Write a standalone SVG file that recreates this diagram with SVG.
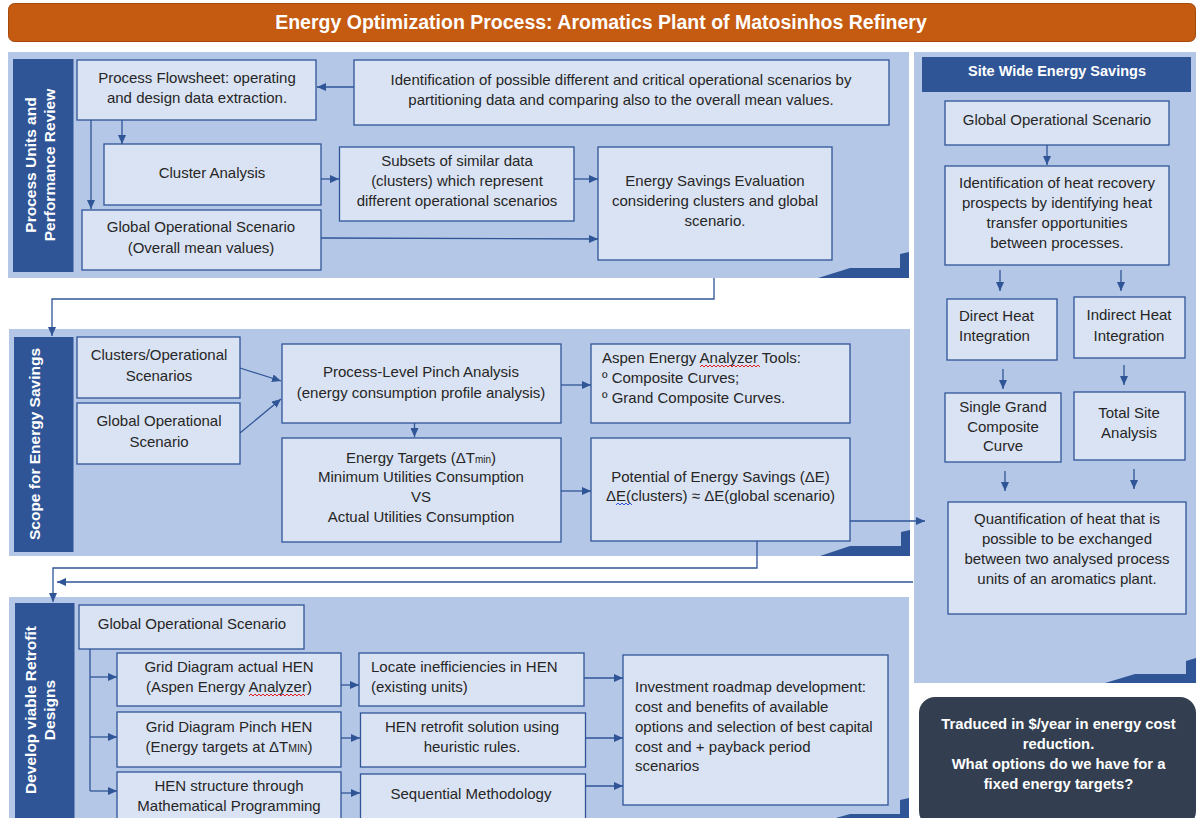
<svg xmlns="http://www.w3.org/2000/svg" width="1196" height="818" viewBox="0 0 1196 818">
<defs>
<style>
.panel{fill:#B4C7E7}
.bar{fill:#2F5597}
.box{fill:#DAE3F3;stroke:#2F5597;stroke-width:1.3}
.t{font-family:"Liberation Sans",Arial,sans-serif;font-size:15px;fill:#262626}
.c{text-anchor:middle}
.bt{font-family:"Liberation Sans",Arial,sans-serif;font-weight:bold;fill:#ffffff;text-anchor:middle}
.ln{fill:none;stroke:#2F5597;stroke-width:1.3}
.deco{fill:#2F5597}
.sq{fill:none;stroke-width:1}
</style>
<marker id="ah" viewBox="0 0 9 8" refX="9" refY="4" markerWidth="9" markerHeight="8" markerUnits="userSpaceOnUse" orient="auto">
<path d="M0,0 L9,4 L0,8 z" fill="#2F5597"/>
</marker>
</defs>
<rect width="1196" height="818" fill="#ffffff"/>

<g id="title">
<rect x="8.5" y="3.5" width="1187" height="38" rx="6" fill="#C55A11" stroke="#A54A0D" stroke-width="1"/>
<text class="bt" x="601" y="29" style="font-size:19.5px">Energy Optimization Process: Aromatics Plant of Matosinhos Refinery</text>
</g>

<g id="panels">
<rect class="panel" x="8" y="52" width="901" height="226"/>
<path class="deco" d="M818,278 L850,268 H900 V254 L909,252 V278 Z"/>
<rect class="panel" x="9" y="329" width="901" height="227"/>
<path class="deco" d="M820,556 L850,546 H901 V532 L910,530 V556 Z"/>
<rect class="panel" x="9" y="597" width="900" height="226"/>
<path class="deco" d="M818,823 L850,814 H900 V800 L909,798 V823 Z"/>
<rect class="panel" x="914" y="52" width="282" height="631"/>
<path class="deco" d="M1105,683 L1135,674 H1186 V661 L1196,658 V683 Z"/>
</g>

<g id="bar1">
<rect class="bar" x="13" y="59" width="60.5" height="213"/>
<text class="bt" style="font-size:15.5px" transform="translate(36,165) rotate(-90)">Process Units and</text>
<text class="bt" style="font-size:15.5px" transform="translate(55,165) rotate(-90)">Performance Review</text>
</g>
<g id="bar2">
<rect class="bar" x="14" y="337" width="59.5" height="215"/>
<text class="bt" style="font-size:15.5px" transform="translate(40,444) rotate(-90)">Scope for Energy Savings</text>
</g>
<g id="bar3">
<rect class="bar" x="15" y="603" width="59.5" height="227"/>
<text class="bt" style="font-size:15.5px" transform="translate(36,710) rotate(-90)">Develop viable Retrofit</text>
<text class="bt" style="font-size:15.5px" transform="translate(55,710) rotate(-90)">Designs</text>
</g>

<g id="connectors">
<line class="ln" x1="354" y1="87" x2="317" y2="87" marker-end="url(#ah)"/>
<line class="ln" x1="122" y1="120" x2="122" y2="144" marker-end="url(#ah)"/>
<line class="ln" x1="91" y1="120" x2="91" y2="209" marker-end="url(#ah)"/>
<line class="ln" x1="321" y1="179" x2="339" y2="179" marker-end="url(#ah)"/>
<line class="ln" x1="574" y1="179" x2="598" y2="179" marker-end="url(#ah)"/>
<line class="ln" x1="321" y1="238" x2="598" y2="239" marker-end="url(#ah)"/>
<path class="ln" d="M714,278 V299 H52 V336" marker-end="url(#ah)"/>
<line class="ln" x1="240" y1="368" x2="281" y2="381" marker-end="url(#ah)"/>
<line class="ln" x1="240" y1="433" x2="281" y2="399" marker-end="url(#ah)"/>
<line class="ln" x1="561" y1="385" x2="591" y2="385" marker-end="url(#ah)"/>
<line class="ln" x1="414.5" y1="423" x2="414.5" y2="437" marker-end="url(#ah)"/>
<line class="ln" x1="561" y1="491" x2="591" y2="491" marker-end="url(#ah)"/>
<line class="ln" x1="703" y1="511" x2="832" y2="511"/>
<path class="ln" d="M757,511 V568 H53 V602" marker-end="url(#ah)"/>
<line class="ln" x1="757" y1="521" x2="925" y2="521" marker-end="url(#ah)"/>
<line class="ln" x1="913" y1="582" x2="57" y2="582" marker-end="url(#ah)"/>
<line class="ln" x1="1047" y1="145" x2="1047" y2="165" marker-end="url(#ah)"/>
<line class="ln" x1="1000" y1="270" x2="1000" y2="291" marker-end="url(#ah)"/>
<line class="ln" x1="1121" y1="270" x2="1121" y2="291" marker-end="url(#ah)"/>
<line class="ln" x1="1003" y1="369" x2="1003" y2="389" marker-end="url(#ah)"/>
<line class="ln" x1="1124" y1="365" x2="1124" y2="385" marker-end="url(#ah)"/>
<line class="ln" x1="1005" y1="471" x2="1005" y2="491" marker-end="url(#ah)"/>
<line class="ln" x1="1134" y1="469" x2="1134" y2="489" marker-end="url(#ah)"/>
<path class="ln" d="M90,649 V791"/>
<line class="ln" x1="90" y1="677" x2="117" y2="677" marker-end="url(#ah)"/>
<line class="ln" x1="90" y1="737" x2="117" y2="737" marker-end="url(#ah)"/>
<line class="ln" x1="90" y1="791" x2="117" y2="791" marker-end="url(#ah)"/>
<line class="ln" x1="341" y1="685" x2="359" y2="685" marker-end="url(#ah)"/>
<line class="ln" x1="341" y1="738" x2="360" y2="738" marker-end="url(#ah)"/>
<line class="ln" x1="341" y1="793" x2="360" y2="793" marker-end="url(#ah)"/>
<line class="ln" x1="584" y1="678" x2="623" y2="678" marker-end="url(#ah)"/>
<line class="ln" x1="585" y1="738" x2="623" y2="738" marker-end="url(#ah)"/>
<line class="ln" x1="585" y1="786" x2="623" y2="786" marker-end="url(#ah)"/>
</g>

<g id="n-flowsheet">
<rect class="box" x="77" y="60" width="239" height="60"/>
<text class="t c" x="197" y="83">Process Flowsheet: operating</text>
<text class="t c" x="197" y="103">and design data extraction.</text>
</g>
<g id="n-identification">
<rect class="box" x="354" y="60" width="535" height="65"/>
<text class="t c" x="621" y="85">Identification of possible different and critical operational scenarios by</text>
<text class="t c" x="621" y="105">partitioning data and comparing also to the overall mean values.</text>
</g>
<g id="n-cluster">
<rect class="box" x="104" y="144" width="217" height="61"/>
<text class="t c" x="212" y="178">Cluster Analysis</text>
</g>
<g id="n-subsets">
<rect class="box" x="339.5" y="147" width="234.5" height="74"/>
<text class="t c" x="457" y="166">Subsets of similar data</text>
<text class="t c" x="457" y="186">(clusters) which represent</text>
<text class="t c" x="457" y="206">different operational scenarios</text>
</g>
<g id="n-global1">
<rect class="box" x="82" y="210" width="239" height="60"/>
<text class="t c" x="201" y="232">Global Operational Scenario</text>
<text class="t c" x="201" y="253">(Overall mean values)</text>
</g>
<g id="n-ese">
<rect class="box" x="598" y="147" width="234" height="113"/>
<text class="t c" x="715" y="186">Energy Savings Evaluation</text>
<text class="t c" x="715" y="206">considering clusters and global</text>
<text class="t c" x="715" y="226">scenario.</text>
</g>

<g id="n-clusters-op">
<rect class="box" x="77" y="337" width="163" height="61"/>
<text class="t c" x="159" y="360">Clusters/Operational</text>
<text class="t c" x="159" y="381">Scenarios</text>
</g>
<g id="n-global2">
<rect class="box" x="77" y="403" width="163" height="61"/>
<text class="t c" x="159" y="426">Global Operational</text>
<text class="t c" x="159" y="447">Scenario</text>
</g>
<g id="n-pinch">
<rect class="box" x="282" y="344" width="279" height="79"/>
<text class="t c" x="421" y="377">Process-Level Pinch Analysis</text>
<text class="t c" x="421" y="398">(energy consumption profile analysis)</text>
</g>
<g id="n-targets">
<rect class="box" x="282" y="438" width="279" height="104"/>
<text class="t c" x="421" y="463">Energy Targets (ΔT<tspan style="font-size:10px">min</tspan>)</text>
<text class="t c" x="421" y="482">Minimum Utilities Consumption</text>
<text class="t c" x="421" y="502">VS</text>
<text class="t c" x="421" y="522">Actual Utilities Consumption</text>
</g>
<g id="n-aspen">
<rect class="box" x="591" y="344" width="259" height="79"/>
<text class="t" x="602" y="363">Aspen Energy Analyzer Tools:</text>
<text class="t" x="602" y="383">º Composite Curves;</text>
<text class="t" x="602" y="403">º Grand Composite Curves.</text>
<path class="sq" stroke="#E02020" d="M700,367 l2,-2 l2,2 l2,-2 l2,2 l2,-2 l2,2 l2,-2 l2,2 l2,-2 l2,2 l2,-2 l2,2 l2,-2 l2,2 l2,-2 l2,2 l2,-2 l2,2 l2,-2 l2,2 l2,-2 l2,2 l2,-2 l2,2 l2,-2 l2,2 l2,-2 l2,2 l2,-2 l2,2"/>
</g>
<g id="n-potential">
<rect class="box" x="591" y="438" width="259" height="103"/>
<text class="t c" x="720.5" y="482">Potential of Energy Savings (ΔE)</text>
<text class="t c" x="720.5" y="501">ΔE(clusters) ≈ ΔE(global scenario)</text>
<path class="sq" stroke="#3050D0" d="M616,505 l2,-2 l2,2 l2,-2 l2,2 l2,-2 l2,2 l2,-2 l2,2"/>
</g>

<g id="n-site-header">
<rect x="922" y="57" width="269" height="35" fill="#2F5597"/>
<text class="bt" x="1057" y="76" style="font-size:14.5px">Site Wide Energy Savings</text>
</g>
<g id="n-global-site">
<rect class="box" x="945" y="101" width="224" height="44"/>
<text class="t c" x="1057" y="124.5">Global Operational Scenario</text>
</g>
<g id="n-heat-recovery">
<rect class="box" x="945" y="166" width="224" height="99"/>
<text class="t c" x="1057" y="188">Identification of heat recovery</text>
<text class="t c" x="1057" y="208">prospects by identifying heat</text>
<text class="t c" x="1057" y="228">transfer opportunities</text>
<text class="t c" x="1057" y="248">between processes.</text>
</g>
<g id="n-direct">
<rect class="box" x="947" y="299" width="110" height="61"/>
<text class="t" x="959" y="321">Direct Heat</text>
<text class="t" x="959" y="341">Integration</text>
</g>
<g id="n-indirect">
<rect class="box" x="1074" y="297" width="111" height="61"/>
<text class="t c" x="1129" y="320">Indirect Heat</text>
<text class="t c" x="1129" y="341">Integration</text>
</g>
<g id="n-single">
<rect class="box" x="945" y="393" width="116" height="69"/>
<text class="t c" x="1003" y="412">Single Grand</text>
<text class="t c" x="1003" y="432">Composite</text>
<text class="t c" x="1003" y="451">Curve</text>
</g>
<g id="n-total">
<rect class="box" x="1074" y="392" width="111" height="68"/>
<text class="t c" x="1129" y="418">Total Site</text>
<text class="t c" x="1129" y="438">Analysis</text>
</g>
<g id="n-quant">
<rect class="box" x="948" y="502" width="238" height="112"/>
<text class="t c" x="1067" y="524">Quantification of heat that is</text>
<text class="t c" x="1067" y="544">possible to be exchanged</text>
<text class="t c" x="1067" y="564">between two analysed process</text>
<text class="t c" x="1067" y="584">units of an aromatics plant.</text>
</g>

<g id="n-global3">
<rect class="box" x="79" y="605" width="225" height="44"/>
<text class="t c" x="192" y="629">Global Operational Scenario</text>
</g>
<g id="n-grid-actual">
<rect class="box" x="117" y="653" width="224" height="53"/>
<text class="t c" x="229" y="672">Grid Diagram actual HEN</text>
<text class="t c" x="229" y="692">(Aspen Energy Analyzer)</text>
<path class="sq" stroke="#E02020" d="M249,696 l2,-2 l2,2 l2,-2 l2,2 l2,-2 l2,2 l2,-2 l2,2 l2,-2 l2,2 l2,-2 l2,2 l2,-2 l2,2 l2,-2 l2,2 l2,-2 l2,2 l2,-2 l2,2 l2,-2 l2,2 l2,-2 l2,2 l2,-2 l2,2 l2,-2 l2,2"/>
</g>
<g id="n-grid-pinch">
<rect class="box" x="117" y="712" width="224" height="55"/>
<text class="t c" x="229" y="732">Grid Diagram Pinch HEN</text>
<text class="t c" x="229" y="752">(Energy targets at ΔT<tspan style="font-size:10.5px">MIN</tspan>)</text>
</g>
<g id="n-hen-structure">
<rect class="box" x="117" y="772" width="224" height="60"/>
<text class="t c" x="229" y="791">HEN structure through</text>
<text class="t c" x="229" y="811">Mathematical Programming</text>
</g>
<g id="n-locate">
<rect class="box" x="359" y="653" width="225" height="53"/>
<text class="t" x="371" y="672">Locate inefficiencies in HEN</text>
<text class="t" x="371" y="692">(existing units)</text>
</g>
<g id="n-retrofit">
<rect class="box" x="360.5" y="713" width="225" height="54"/>
<text class="t c" x="472" y="732">HEN retrofit solution using</text>
<text class="t c" x="472" y="752">heuristic rules.</text>
</g>
<g id="n-sequential">
<rect class="box" x="360.5" y="774" width="225" height="58"/>
<text class="t c" x="471" y="799">Sequential Methodology</text>
</g>
<g id="n-investment">
<rect class="box" x="623" y="655" width="265" height="150"/>
<text class="t" x="635" y="692">Investment roadmap development:</text>
<text class="t" x="635" y="712">cost and benefits of available</text>
<text class="t" x="635" y="732">options and selection of best capital</text>
<text class="t" x="635" y="752">cost and + payback period</text>
<text class="t" x="635" y="771">scenarios</text>
</g>

<g id="n-question">
<rect x="919" y="697" width="277" height="130" rx="16" fill="#333F50"/>
<text class="bt" x="1058.5" y="729" style="font-size:14.8px">Traduced in $/year in energy cost</text>
<text class="bt" x="1058.5" y="749" style="font-size:14.8px">reduction.</text>
<text class="bt" x="1058.5" y="769" style="font-size:14.8px">What options do we have for a</text>
<text class="bt" x="1058.5" y="789" style="font-size:14.8px">fixed energy targets?</text>
</g>
</svg>
